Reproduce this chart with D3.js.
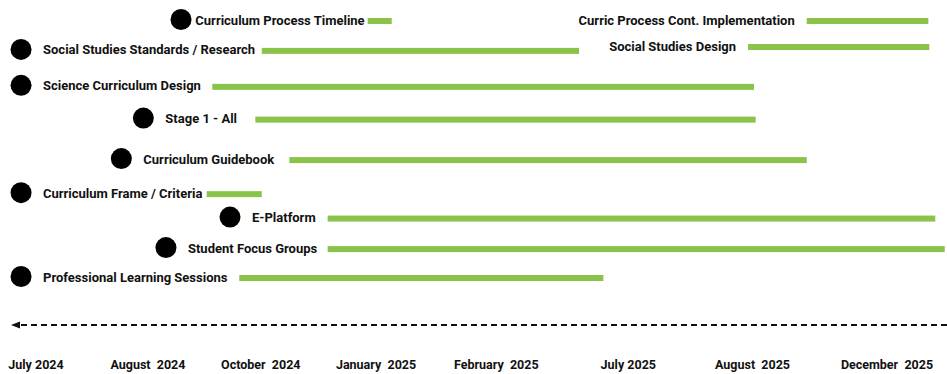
<!DOCTYPE html>
<html>
<head>
<meta charset="utf-8">
<script src="https://cdn.jsdelivr.net/npm/d3@7"></script>
<style>
  html, body { margin: 0; padding: 0; background: #fff; }
  svg text { font-family: Roboto, "Noto Sans", sans-serif; font-weight: 700; fill: #111; white-space: pre; }
</style>
</head>
<body>
<svg id="chart" width="947" height="374"></svg>
<script>
// timeline ticks, positions are in "tick units" along the timeline
const tickLabels = ['July 2024', 'August  2024', 'October  2024', 'January  2025',
    'February  2025', 'July 2025', 'August  2025', 'December  2025']
const tickPos = [0, 0.921, 1.849, 2.797, 3.786, 4.872, 5.894, 7.0]

// tasks
const taskNames = ['Curriculum Process Timeline', 'Curric Process Cont. Implementation',
    'Social Studies Standards / Research', 'Social Studies Design',
    'Science Curriculum Design', 'Stage 1 - All', 'Curriculum Guidebook',
    'Curriculum Frame / Criteria', 'E-Platform', 'Student Focus Groups',
    'Professional Learning Sessions']
const taskStart = [2.728, 6.340, 1.857, 5.857, 1.450, 1.804, 2.084, 1.404, 2.399, 2.399, 1.672]
const taskEnd = [2.926, 7.340, 4.467, 7.348, 5.906, 5.920, 6.340, 1.857, 7.397, 7.475, 4.667]
// milestone dot on the timeline (null = no dot)
const taskDot = [1.193, null, -0.123, null, -0.123, 0.883, 0.702, -0.123, 1.596, 1.069, -0.123]
// lane of each task (row on the chart)
const taskLane = [0, 0, 0.93, 0.81, 2.05, 3.07, 4.33, 5.39, 6.15, 7.10, 8]

const green = '#8bc34a'
const dotR = 10.5
const labelGap = 11.5

const svg = d3.select('#chart')

const x = d3.scaleLinear().domain([0, 7]).range([36, 887])
const y = d3.scaleLinear().domain([0, 8]).range([21, 278])

const tasks = taskNames.map((name, i) => ({
    name,
    start: taskStart[i],
    end: taskEnd[i],
    dot: taskDot[i],
    lane: taskLane[i],
}))

// dashed timeline with arrow pointing left
const axisY = 325
svg.append('line')
    .attr('x1', 947)
    .attr('x2', 20)
    .attr('y1', axisY)
    .attr('y2', axisY)
    .attr('stroke', '#111')
    .attr('stroke-width', 2)
    .attr('stroke-dasharray', '6,4')
svg.append('path')
    .attr('d', `M11,${axisY} L20,${axisY - 3.5} L20,${axisY + 3.5} Z`)
    .attr('fill', '#111')

// tick labels
svg.append('g')
    .selectAll('text')
    .data(tickLabels)
    .join('text')
    .attr('x', (d, i) => x(tickPos[i]))
    .attr('y', 369)
    .attr('text-anchor', 'middle')
    .attr('font-size', '12.5px')
    .text(d => d)

const g = svg.append('g')
    .selectAll('.task')
    .data(tasks)
    .join('g')
    .attr('class', 'task')

// bars
g.append('rect')
    .attr('x', d => x(d.start))
    .attr('y', d => y(d.lane) - 3)
    .attr('width', d => x(d.end) - x(d.start))
    .attr('height', 6)
    .attr('fill', green)

// dots
g.filter(d => d.dot !== null)
    .append('circle')
    .attr('cx', d => x(d.dot))
    .attr('cy', d => y(d.lane) - 1.5)
    .attr('r', dotR)
    .attr('fill', '#000')

// labels: after the dot (but never running into the bar), or right-aligned before the bar
g.append('text')
    .attr('font-size', '13px')
    .attr('dy', '0.35em')
    .attr('y', d => y(d.lane) - 1)
    .text(d => d.name)
    .each(function (d) {
        const t = d3.select(this)
        if (d.dot === null) {
            t.attr('text-anchor', 'end').attr('x', x(d.start) - 12)
            return
        }
        const w = this.getComputedTextLength()
        const afterDot = x(d.dot) + dotR + labelGap
        t.attr('x', Math.min(afterDot, x(d.start) - 3 - w))
    })
</script>
</body>
</html>
